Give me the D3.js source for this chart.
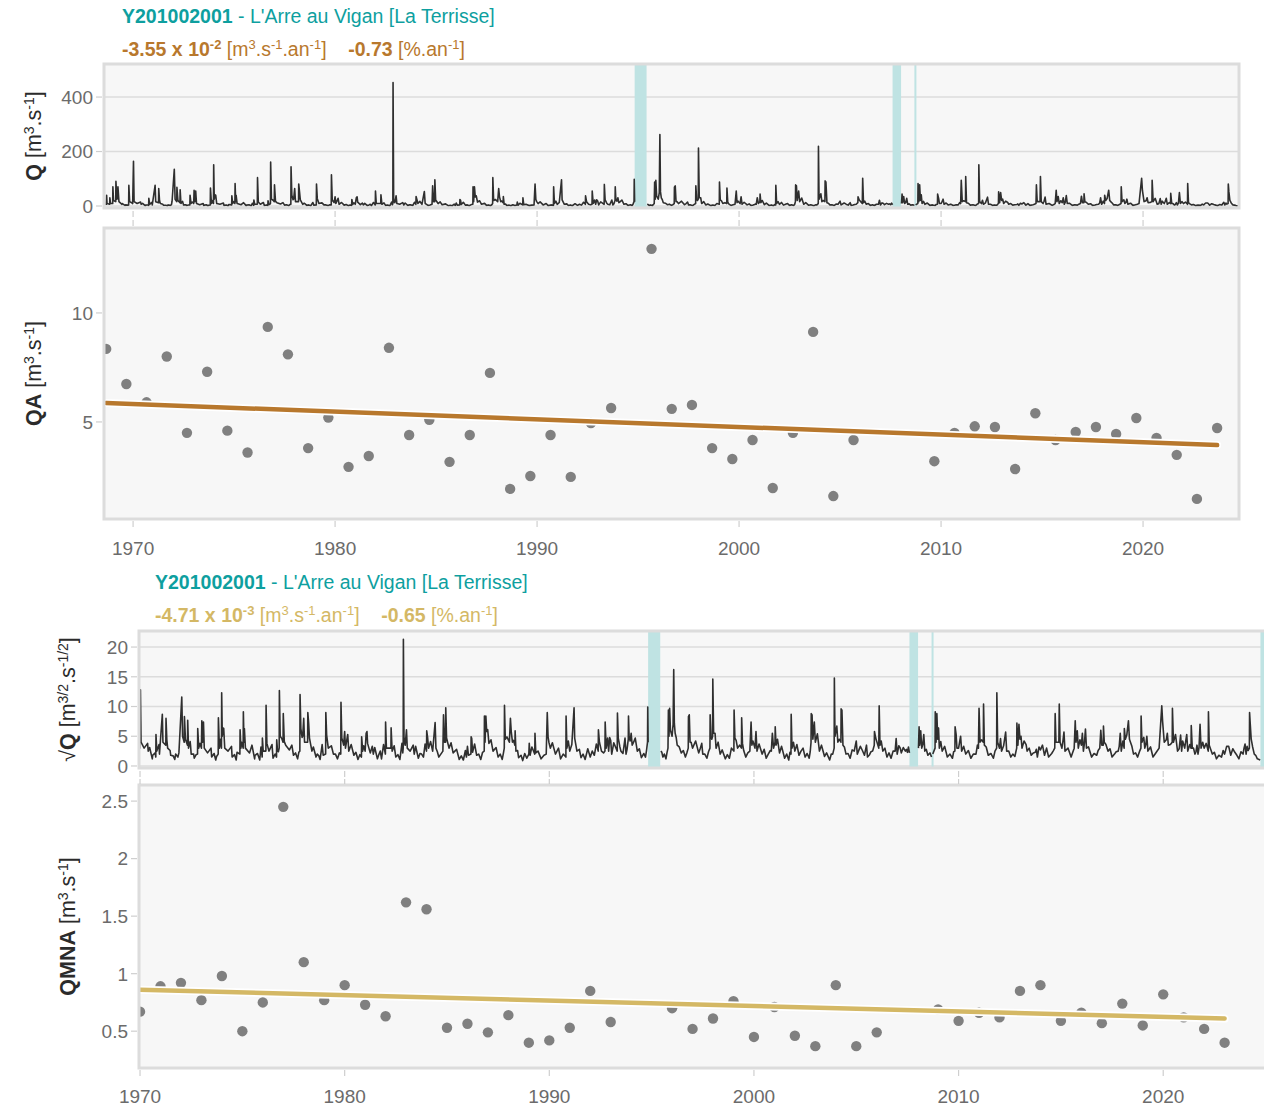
<!DOCTYPE html>
<html>
<head>
<meta charset="utf-8">
<script src="https://cdn.jsdelivr.net/npm/d3@7"></script>
<style>
  body { margin: 0; background: #fff; }
  svg { font-family: "Liberation Sans", Arial, Helvetica, sans-serif; }
</style>
</head>
<body>
<div id="chart"></div>
<script>
// station
const stationCode = "Y201002001";
const stationName = " - L'Arre au Vigan [La Terrisse]";

// daily flow as [decimal year, sqrt(Q)] (peaks and troughs), null = gap
const flowPts = [
  [1968.67,2.0],[1968.69,6.3],[1968.71,3.0],[1968.84,2.5],[1968.85,5.5],[1968.88,3.2],[1968.99,3.0],[1969.0,8.4],[1969.03,4.5],[1969.14,4],[1969.15,9.5],[1969.2,5],[1969.24,6],[1969.25,8.4],[1969.3,4],[1969.45,2.5],[1969.6,1.5],[1969.78,2],[1969.79,8.7],[1969.83,4],[1969.98,3],
  [1970.02,12.8],[1970.05,4],[1970.2,3],[1970.37,3.8],[1970.4,2.5],[1970.6,1.2],[1970.77,1.5],[1970.78,5.3],[1970.82,2.5],[1970.95,2],[1971.09,8.7],[1971.12,4],[1971.26,3.5],[1971.27,8.0],[1971.31,4.4],[1971.35,3],[1971.5,1.8],[1971.7,1.1],[1971.85,1.5],[1971.9,2.2],
  [1972.04,11.6],[1972.08,5],[1972.16,4],[1972.17,8.3],[1972.22,4.5],[1972.32,3.5],[1972.33,7.7],[1972.37,3],[1972.45,4.1],[1972.5,2],[1972.65,1.3],[1972.81,2],[1972.82,6.3],[1972.87,3],[1973.0,3],[1973.02,7.6],[1973.06,4],[1973.1,7.4],[1973.14,3],[1973.3,2.2],[1973.5,1.5],[1973.7,1.0],
  [1973.82,2],[1973.83,8.1],[1973.88,3],[1973.98,3],[1973.99,12.3],[1974.02,5],[1974.05,6.4],[1974.09,6.3],[1974.14,3],[1974.3,2.5],[1974.5,1.5],[1974.7,1.0],[1974.88,2],[1974.89,6.1],[1974.93,3],[1975.04,3],[1975.05,9.1],[1975.08,4],[1975.1,6.3],[1975.15,3],[1975.35,2.2],[1975.6,1.2],[1975.85,1],
  [1975.97,1.5],[1975.98,4.7],[1976.02,2.5],[1976.15,2.5],[1976.16,10.2],[1976.2,3.8],[1976.3,2.5],[1976.5,1.3],[1976.67,1.5],[1976.68,4.4],[1976.72,2.5],[1976.8,3],[1976.81,12.7],[1976.85,5],[1976.99,4],[1977.0,8.8],[1977.05,4.1],[1977.12,3.5],[1977.3,2.7],[1977.5,1.8],[1977.7,1.2],
  [1977.81,2.5],[1977.82,12.0],[1977.86,6.3],[1977.95,5],[1978.0,8.0],[1978.04,4],[1978.19,4],[1978.2,9.0],[1978.24,7.2],[1978.28,4.7],[1978.4,2.5],[1978.6,1.5],[1978.8,1.1],[1978.95,1.8],
  [1979.07,2],[1979.08,9.0],[1979.12,5.2],[1979.2,3],[1979.45,2],[1979.65,1.2],[1979.81,2],[1979.82,10.7],[1979.86,4.7],[1979.95,3.5],[1980.0,5.8],[1980.04,3],[1980.15,5.3],[1980.2,2.5],[1980.45,1.8],[1980.65,1.1],
  [1980.82,1.5],[1980.83,4.9],[1980.88,2.5],[1981.0,2.5],[1981.05,5.5],[1981.09,5.8],[1981.12,3.8],[1981.25,2.2],[1981.35,3.3],[1981.4,2],[1981.6,1.2],[1981.8,1.2],
  [1981.99,2],[1982.0,7.4],[1982.04,3],[1982.26,3],[1982.27,6.4],[1982.32,2.5],[1982.5,1.5],[1982.7,1.1],[1982.8,3.8],[1982.84,2.2],[1982.86,3],[1982.87,21.3],[1982.9,4.9],[1982.96,3.5],[1983.02,6.1],[1983.06,3],[1983.2,2.5],[1983.35,3.5],[1983.4,2],[1983.6,1.3],[1983.85,1.5],
  [1984.0,2.5],[1984.01,5.9],[1984.05,4.9],[1984.1,3],[1984.3,2.5],[1984.42,7.3],[1984.46,3],[1984.6,1.5],[1984.8,2.5],[1984.83,8.6],[1984.88,4],[1984.93,4],[1984.94,9.8],[1984.98,4.7],[1985.1,3],[1985.3,2.2],[1985.6,1.1],[1985.8,1.0],
  [1985.95,1.5],[1986.0,3.3],[1986.05,1.8],[1986.17,2],[1986.18,4.9],[1986.21,4.6],[1986.25,2.3],[1986.45,1.8],[1986.65,1.1],[1986.82,2.5],[1986.83,8.4],[1986.86,4],[1986.9,8.4],[1986.94,5.8],[1986.99,6.1],[1987.05,3.8],[1987.25,2.5],[1987.5,1.5],[1987.7,1.1],
  [1987.8,3],[1987.81,10.2],[1987.85,4.5],[1988.05,4],[1988.1,8.0],[1988.14,5.8],[1988.2,4],[1988.32,3.5],[1988.33,5.9],[1988.37,2.5],[1988.5,1.4],[1988.7,0.9],[1988.9,1.3],
  [1989.0,2],[1989.02,3.8],[1989.06,1.8],[1989.29,2],[1989.3,5.5],[1989.34,2.2],[1989.6,1.2],[1989.85,2],[1989.9,9.0],[1989.94,4.9],[1990.05,3],[1990.3,2],[1990.55,1.2],
  [1990.81,1.5],[1990.82,8.4],[1990.86,3],[1991.0,2.5],[1991.21,9.8],[1991.24,4.7],[1991.35,2.5],[1991.55,1.4],[1991.75,1.1],[1992.0,1.5],[1992.1,2.5],[1992.2,1.8],
  [1992.39,2.5],[1992.4,6.1],[1992.45,4],[1992.55,2.5],[1992.72,2.5],[1992.73,7.4],[1992.78,3],[1992.85,4.7],[1992.9,2.5],[1993.0,4.3],[1993.05,2],[1993.32,2.5],[1993.33,8.9],[1993.37,4.7],[1993.5,2.5],[1993.7,4.7],[1993.75,2],
  [1993.86,4.5],[1993.87,8.4],[1993.9,5],[1994.0,5.5],[1994.05,3.5],[1994.2,4.7],[1994.3,2.5],[1994.5,1.4],[1994.7,1.5],[1994.8,4],[1994.81,9.9],[1994.83,4],[1994.84,null],
  [1995.45,2.5],[1995.55,1.5],[1995.7,1.2],[1995.8,3],[1995.82,9.4],[1995.85,5],[1995.88,9.7],[1995.92,6],[1996.0,5],[1996.05,7],[1996.08,16.2],[1996.11,7.2],[1996.15,5.5],[1996.25,3.5],[1996.45,2.2],[1996.65,1.5],
  [1996.79,3],[1996.8,8.3],[1996.84,8.6],[1996.88,4],[1997.0,3],[1997.3,2.2],[1997.45,3.8],[1997.5,2],[1997.7,1.3],[1997.85,3],[1997.86,8.6],[1997.9,5],[1997.98,5],[1997.99,14.6],[1998.03,5.5],[1998.1,5.5],[1998.15,3],[1998.35,2],[1998.6,1.2],[1998.8,1.3],
  [1999.02,2.5],[1999.03,9.4],[1999.07,4.7],[1999.2,3],[1999.39,3],[1999.4,8.1],[1999.44,3.8],[1999.6,1.5],[1999.8,2.5],[1999.86,7.4],[1999.9,3.5],[2000.05,3],[2000.1,5.8],[2000.15,2.5],[2000.4,2],[2000.6,1.3],[2000.85,2.5],[2000.9,5.5],[2000.96,3],
  [2001.03,4],[2001.04,6.6],[2001.08,3.5],[2001.15,4.5],[2001.25,2.2],[2001.5,1.3],[2001.7,1.0],[2001.81,2],[2001.82,8.7],[2001.86,3],[2002.0,2.5],[2002.2,1.8],[2002.4,3],[2002.5,1.5],[2002.7,1.3],
  [2002.79,4],[2002.8,8.8],[2002.84,8.6],[2002.88,4.5],[2002.95,7.4],[2003.0,4],[2003.1,5.4],[2003.2,2.5],[2003.45,1.6],[2003.7,1.0],[2003.85,2],[2003.92,3],[2003.93,14.8],[2003.96,5],[2004.05,6.7],[2004.1,4],[2004.25,4],[2004.26,9.6],[2004.3,9.4],[2004.35,3.5],[2004.5,2],[2004.7,1.3],
  [2004.9,2.5],[2005.0,4.2],[2005.05,2],[2005.4,1.8],[2005.5,3.5],[2005.55,1.5],[2005.8,2.5],[2005.88,3.5],[2005.89,5.8],[2005.95,4.7],[2006.1,3],[2006.12,10.1],[2006.16,3.5],[2006.3,2.5],[2006.5,1.5],[2006.7,1.3],[2006.9,2.5],[2006.95,4.6],[2007.0,2],[2007.15,3],[2007.2,2.2],[2007.4,2.5],[2007.5,2.3],[2007.6,2.2],[2007.62,null],
  [2008.04,3],[2008.07,6.6],[2008.1,3.5],[2008.15,5.9],[2008.2,3],[2008.3,5.3],[2008.35,2.5],[2008.5,1.8],[2008.68,1.5],[2008.7,null],
  [2008.74,2],[2008.85,3],[2008.86,9.1],[2008.9,4],[2008.94,8.8],[2008.98,4.5],[2009.02,6.4],[2009.06,3],[2009.2,2.5],[2009.45,1.5],[2009.7,1.3],
  [2009.82,2.5],[2009.83,6.6],[2009.88,5.3],[2009.92,3],[2010.0,3],[2010.1,5.0],[2010.15,2.5],[2010.35,2],[2010.6,1.3],[2010.85,2],[2010.97,3],[2011.0,9.7],[2011.05,4],[2011.21,4],[2011.22,10.4],[2011.26,3.5],[2011.45,1.8],[2011.7,1.3],
  [2011.86,3],[2011.87,12.3],[2011.91,4],[2012.0,3],[2012.1,2.5],[2012.3,5.7],[2012.35,2.5],[2012.55,1.5],[2012.75,1.6],[2012.84,3],[2012.85,7.2],[2012.9,3.5],[2012.95,7.0],[2013.0,4.5],[2013.05,5.0],[2013.1,3],[2013.3,3.6],[2013.35,2.5],[2013.55,1.8],[2013.75,2.3],[2013.85,1.5],[2014.0,2.7],[2014.2,1.8],[2014.4,1.5],
  [2014.7,3],[2014.72,8.8],[2014.76,4],[2014.9,4],[2014.92,10.4],[2014.96,4],[2015.05,3],[2015.15,5.7],[2015.2,2.5],[2015.5,1.5],[2015.65,3],[2015.7,7.6],[2015.74,4],[2015.8,5.9],[2015.85,3],[2016.0,3.5],[2016.05,5.5],[2016.1,2.5],[2016.2,6.2],[2016.25,3],[2016.5,1.5],[2016.75,1.8],
  [2016.9,3],[2016.95,6.0],[2017.0,3.5],[2017.07,3.5],[2017.08,6.7],[2017.12,4],[2017.3,2.5],[2017.5,1.5],[2017.8,2.5],[2017.9,5.5],[2017.95,2.5],[2018.09,3],[2018.1,6.3],[2018.15,4.5],[2018.3,7.6],[2018.35,4.5],[2018.4,4],[2018.55,2],[2018.75,1.5],
  [2018.91,3],[2018.92,8.4],[2018.96,4],[2019.1,3],[2019.2,5.0],[2019.25,2.5],[2019.5,1.5],[2019.8,3],[2019.93,10.1],[2019.97,7.5],[2020.05,4],[2020.2,5.5],[2020.25,3.5],[2020.44,4],[2020.45,9.7],[2020.5,4],[2020.6,5.3],[2020.7,2.5],[2020.85,5.2],[2020.9,2.5],
  [2021.05,3],[2021.15,5.3],[2021.2,2.5],[2021.36,3],[2021.37,6.8],[2021.42,3],[2021.55,2],[2021.65,3.5],[2021.7,2],[2021.8,7.0],[2021.85,3],[2022.0,3],[2022.2,2.5],[2022.21,9.1],[2022.25,3.5],[2022.4,2],[2022.6,1.2],[2022.85,1.5],
  [2023.0,2],[2023.2,3.3],[2023.3,1.8],[2023.5,2.3],[2023.7,1.2],[2023.9,2],[2024.0,3.7],[2024.05,2],[2024.21,3],[2024.22,9.0],[2024.25,7.2],[2024.3,4.5],[2024.45,2],[2024.6,1.2],[2024.74,1.0]
];

// smaller freshets and low-flow wiggles between the main peaks, [decimal year, sqrt(Q)]
const minorPts = [
  [1969.47,3.0],[1969.62,2.0],[1969.74,1.8],[1969.93,3.5],
  [1970.47,3.1],[1970.62,1.8],[1970.74,2.2],[1970.93,3.6],
  [1971.47,2.6],[1971.62,1.7],[1971.74,2.0],[1971.93,4.2],
  [1972.47,3.4],[1972.62,2.0],[1972.74,1.9],[1972.93,3.8],
  [1973.47,3.0],[1973.62,2.1],[1973.74,1.6],[1973.93,4.5],
  [1974.47,3.3],[1974.62,1.9],[1974.74,2.3],[1974.97,4.0],
  [1975.47,3.5],[1975.62,1.8],[1975.74,2.1],[1975.91,3.2],
  [1976.45,3.6],[1976.6,2.0],[1976.76,2.4],[1976.93,4.6],
  [1977.42,3.5],[1977.6,2.2],[1977.76,2.3],[1977.92,4.8],
  [1978.47,3.2],[1978.66,2.0],[1978.74,1.7],[1978.9,3.6],
  [1979.35,3.4],[1979.55,2.0],[1979.74,2.2],[1979.91,4.1],
  [1980.32,3.6],[1980.55,2.3],[1980.74,1.9],[1980.93,3.4],
  [1981.47,3.1],[1981.68,2.0],[1981.74,2.5],[1981.9,3.6],
  [1982.42,3.4],[1982.6,1.9],[1982.74,2.2],[1982.93,3.8],
  [1983.47,3.3],[1983.68,2.1],[1983.76,2.0],[1983.93,3.7],
  [1984.2,4.1],[1984.53,2.4],[1984.7,2.0],
  [1985.2,3.9],[1985.47,2.8],[1985.7,1.7],[1985.9,2.6],
  [1986.35,3.7],[1986.55,2.0],[1986.74,2.3],
  [1987.15,4.4],[1987.4,3.1],[1987.6,2.0],[1987.76,2.2],[1987.93,4.9],
  [1988.25,4.3],[1988.45,2.6],[1988.62,1.8],[1988.8,2.1],
  [1989.15,3.2],[1989.45,2.5],[1989.74,1.8],[1989.98,4.0],
  [1990.15,3.9],[1990.45,3.0],[1990.68,2.0],[1990.93,4.2],
  [1991.1,3.6],[1991.47,2.8],[1991.65,2.0],[1991.88,2.9],
  [1992.3,3.7],[1992.65,2.2],[1992.95,4.8],
  [1993.15,3.9],[1993.45,3.2],[1993.6,2.1],[1993.8,2.8],[1993.95,4.2],
  [1994.12,4.0],[1994.4,2.9],[1994.62,2.1],[1994.75,2.6],
  [1995.5,2.3],[1995.62,2.0],[1995.75,2.2],
  [1996.2,4.8],[1996.35,3.2],[1996.55,2.6],[1996.72,2.2],[1996.93,4.0],
  [1997.15,4.2],[1997.38,3.0],[1997.6,2.0],[1997.78,2.4],[1997.94,4.5],
  [1998.25,4.0],[1998.45,2.7],[1998.7,1.9],[1998.9,3.0],
  [1999.13,4.3],[1999.3,3.5],[1999.5,2.6],[1999.7,2.2],[1999.95,4.2],
  [2000.25,3.7],[2000.5,2.8],[2000.7,2.0],[2000.8,2.6],
  [2001.35,3.3],[2001.6,2.0],[2001.76,2.3],[2001.93,4.0],
  [2002.1,3.6],[2002.3,2.5],[2002.6,2.1],[2002.75,2.4],
  [2003.3,3.5],[2003.55,2.2],[2003.78,2.0],
  [2004.17,4.5],[2004.42,3.2],[2004.6,2.1],[2004.8,2.7],
  [2005.2,3.3],[2005.3,2.6],[2005.65,1.9],[2005.72,2.4],
  [2006.22,4.2],[2006.4,3.0],[2006.6,2.2],[2006.8,2.5],
  [2007.08,3.4],[2007.3,3.1],[2007.45,2.8],[2007.55,3.2],
  [2008.25,3.6],[2008.42,2.8],[2008.6,2.2],
  [2009.13,4.1],[2009.32,3.3],[2009.58,2.0],[2009.76,2.4],
  [2010.05,4.0],[2010.25,3.3],[2010.48,2.6],[2010.72,2.0],[2010.92,3.5],
  [2011.12,4.4],[2011.35,3.2],[2011.58,2.1],[2011.78,2.5],
  [2012.05,4.6],[2012.2,3.4],[2012.45,2.5],[2012.65,2.0],
  [2013.2,4.2],[2013.45,3.0],[2013.65,2.2],[2013.8,2.8],[2013.93,3.2],
  [2014.1,3.5],[2014.3,3.0],[2014.55,2.1],[2014.62,2.5],
  [2015.1,4.2],[2015.35,3.0],[2015.58,2.3],[2015.93,4.4],
  [2016.15,3.8],[2016.35,3.2],[2016.62,2.1],[2016.82,2.6],
  [2017.2,3.6],[2017.4,2.9],[2017.62,2.0],[2017.7,2.4],[2017.85,3.3],
  [2018.03,4.2],[2018.22,5.2],[2018.47,3.3],[2018.65,2.2],[2018.85,2.5],
  [2019.05,4.8],[2019.15,3.6],[2019.38,3.2],[2019.62,2.1],[2019.72,2.6],
  [2020.15,4.4],[2020.35,3.6],[2020.78,2.9],[2020.95,4.2],
  [2021.1,4.2],[2021.3,3.6],[2021.48,3.0],[2021.6,2.4],[2021.75,3.1],[2021.93,4.0],
  [2022.1,3.8],[2022.3,3.0],[2022.5,2.3],[2022.72,1.8],[2022.93,2.6],
  [2023.1,3.3],[2023.4,2.9],[2023.6,1.8],[2023.8,2.4],[2023.95,3.0],
  [2024.1,3.3],[2024.15,2.6],[2024.37,3.2],[2024.52,1.8]
];

// missing-data periods [start, end] in decimal years
const gaps = [[1994.83, 1995.42], [2007.6, 2008.02], [2008.68, 2008.74], [2024.75, 2026.5]];

// QA : mean annual flow, hydrological year starting 1 September
const qaYears = [1968,1969,1970,1971,1972,1973,1974,1975,1976,1977,1978,1979,1980,1981,1982,1983,1984,1985,1986,1987,1988,1989,1990,1991,1992,1993,
  1995,1996,1997,1998,1999,2000,2001,2002,2003,2004,2005,2009,2010,2011,2012,2013,2014,2015,2016,2017,2018,2019,2020,2021,2022,2023];
const qaValues = [8.35,6.74,5.9,8.0,4.5,7.3,4.6,3.6,9.36,8.1,3.8,5.2,2.94,3.44,8.4,4.4,5.1,3.17,4.4,7.25,1.93,2.52,4.4,2.48,4.95,5.64,
  12.94,5.6,5.78,3.8,3.3,4.17,1.97,4.5,9.13,1.6,4.17,3.2,4.5,4.8,4.77,2.84,5.4,4.17,4.54,4.77,4.45,5.18,4.27,3.49,1.47,4.72];
const qaTrendEnds = [5.87, 3.94];

// QMNA : minimum monthly flow, calendar year
const qmnaYears = [1970,1971,1972,1973,1974,1975,1976,1977,1978,1979,1980,1981,1982,1983,1984,1985,1986,1987,1988,1989,1990,1991,1992,1993,
  1996,1997,1998,1999,2000,2001,2002,2003,2004,2005,2006,2009,2010,2011,2012,2013,2014,2015,2016,2017,2018,2019,2020,2021,2022,2023];
const qmnaValues = [0.67,0.89,0.92,0.77,0.98,0.50,0.75,2.45,1.10,0.77,0.90,0.73,0.63,1.62,1.56,0.53,0.565,0.49,0.64,0.40,0.42,0.53,0.85,0.58,
  0.70,0.52,0.61,0.76,0.45,0.71,0.46,0.37,0.90,0.37,0.49,0.69,0.59,0.66,0.62,0.85,0.90,0.59,0.66,0.57,0.74,0.55,0.82,0.62,0.52,0.40];
const qmnaTrendEnds = [0.86, 0.61];

const qTicks = [0, 200, 400];
const qaTicks = [5, 10];
const sqTicks = [0, 5, 10, 15, 20];
const qmnaTicks = [0.5, 1, 1.5, 2, 2.5];
const yearTicks = [1970, 1980, 1990, 2000, 2010, 2020];

const teal = "#0e9f9f";
const brown = "#b8782d";
const gold = "#d4b865";
const bandColor = "#bfe3e3";
const hydroStart = 8 / 12;

const flowSeries = flowPts.concat(minorPts).sort((a, b) => a[0] - b[0]);

const svg = d3.select("#chart").append("svg").attr("width", 1264).attr("height", 1106)
  .attr("font-family", "'Liberation Sans', Arial, Helvetica, sans-serif");

// text with bold parts and superscripts
function rich(sel, parts, supSize) {
  let shift = 0;
  parts.forEach(p => {
    const s = sel.append("tspan").text(p.t);
    const want = p.sup ? -7 : 0;
    if (want !== shift) { s.attr("dy", want - shift); shift = want; }
    if (p.b) s.attr("font-weight", "bold");
    if (p.sup) s.style("font-size", (supSize || 13) + "px");
  });
  return sel;
}

const unitQ = [{t: " [m"}, {t: "3", sup: 1}, {t: ".s"}, {t: "-1", sup: 1}, {t: "]"}];

function header(x, y, slope, pct, color) {
  svg.append("text").attr("x", x).attr("y", y).attr("fill", teal).style("font-size", "19.5px")
    .call(rich, [{t: stationCode, b: 1}, {t: stationName}]);
  svg.append("text").attr("x", x).attr("y", y + 33).attr("fill", color).style("font-size", "19.5px")
    .call(rich, [{t: slope[0] + " x 10", b: 1}, {t: slope[1], b: 1, sup: 1}, {t: " [m"}, {t: "3", sup: 1}, {t: ".s"}, {t: "-1", sup: 1},
      {t: ".an"}, {t: "-1", sup: 1}, {t: "]\u00a0\u00a0\u00a0\u00a0"}, {t: pct, b: 1}, {t: " [%.an"}, {t: "-1", sup: 1}, {t: "]"}]);
}

let clipId = 0;
function panel(y0, y1, xs, ys, ticks, grid, titleParts, titleX) {
  const g = svg.append("g");
  const [l, r] = xs.range();
  g.append("rect").attr("x", l).attr("y", y0).attr("width", r - l).attr("height", y1 - y0).attr("fill", "#f7f7f7");
  if (grid) {
    g.selectAll(".grid").data(ticks).join("line")
      .attr("x1", l).attr("x2", r).attr("y1", d => ys(d)).attr("y2", d => ys(d))
      .attr("stroke", "#dcdcdc").attr("stroke-width", 1.6);
  }
  // y ticks
  g.selectAll(".yt").data(ticks).join("line")
    .attr("x1", l - 8).attr("x2", l - 2).attr("y1", d => ys(d)).attr("y2", d => ys(d))
    .attr("stroke", "#cfcfcf").attr("stroke-width", 1.2);
  g.selectAll(".yl").data(ticks).join("text")
    .attr("x", l - 11).attr("y", d => ys(d)).attr("dy", "0.36em").attr("text-anchor", "end")
    .attr("fill", "#6b6b6b").style("font-size", "19px").text(d => d);
  // axis title
  const cy = (y0 + y1) / 2;
  g.append("text").attr("transform", `translate(${titleX},${cy}) rotate(-90)`).attr("text-anchor", "middle")
    .attr("fill", "#2b2b2b").style("font-size", "21.5px").call(rich, titleParts, 14);
  const id = "clip" + (clipId++);
  svg.append("clipPath").attr("id", id).append("rect").attr("x", l).attr("y", y0).attr("width", r - l).attr("height", y1 - y0);
  const inner = svg.append("g").attr("clip-path", `url(#${id})`);
  const frame = () => svg.append("rect").attr("x", l).attr("y", y0).attr("width", r - l).attr("height", y1 - y0)
    .attr("fill", "none").attr("stroke", "#dcdcdc").attr("stroke-width", 3);
  return {inner, frame};
}

function xTicks(xs, y, len) {
  svg.append("g").selectAll("line").data(yearTicks).join("line")
    .attr("x1", d => xs(d)).attr("x2", d => xs(d)).attr("y1", y).attr("y2", y + len)
    .attr("stroke", "#cfcfcf").attr("stroke-width", 1.2);
}
function xLabels(xs, y) {
  svg.append("g").selectAll("text").data(yearTicks).join("text")
    .attr("x", d => xs(d)).attr("y", y).attr("dy", "0.36em").attr("text-anchor", "middle")
    .attr("fill", "#6b6b6b").style("font-size", "19px").text(d => d);
}

function hydro(p, xs, ys, tf, y0, y1) {
  p.inner.selectAll(".band").data(gaps).join("rect")
    .attr("x", d => xs(d[0])).attr("width", d => Math.max(2, xs(d[1]) - xs(d[0])))
    .attr("y", y0).attr("height", y1 - y0).attr("fill", bandColor);
  const line = d3.line().defined(d => d[1] !== null).x(d => xs(d[0])).y(d => ys(tf(d[1])));
  p.inner.append("path").datum(flowSeries).attr("d", line)
    .attr("fill", "none").attr("stroke", "#2f2f2f").attr("stroke-width", 1.6).attr("stroke-linejoin", "round");
  p.frame();
}

function scatter(p, xs, ys, xsData, vals, trendX, trendEnds, color) {
  p.inner.selectAll("circle").data(vals).join("circle")
    .attr("cx", (d, i) => xs(xsData[i])).attr("cy", d => ys(d)).attr("r", 5.2).attr("fill", "#808080");
  const tl = d3.line().x((d, i) => xs(trendX[i])).y(d => ys(d));
  p.inner.append("path").datum(trendEnds).attr("d", tl).attr("stroke", "#fff").attr("stroke-width", 8).attr("stroke-linecap", "round");
  p.inner.append("path").datum(trendEnds).attr("d", tl).attr("stroke", color).attr("stroke-width", 4.5).attr("stroke-linecap", "round");
  p.frame();
}

// ---------- top figure (QA) ----------
header(122, 23, ["-3.55", "-2"], "-0.73", brown);
const xTop = d3.scaleLinear().domain([1968.56, 2024.75]).range([104, 1239]);
const yQ = d3.scaleLinear().domain([0, 514]).range([206, 66]);
const pQ = panel(64, 208, xTop, yQ, qTicks, true, [{t: "Q", b: 1}, ...unitQ], 41);
hydro(pQ, xTop, yQ, v => v * v, 64, 208);
xTicks(xTop, 211, 6);

const yQA = d3.scaleLinear().domain([0.64, 13.85]).range([517, 229]);
const pQA = panel(228, 519, xTop, yQA, qaTicks, false, [{t: "QA", b: 1}, ...unitQ], 41);
const qaX = qaYears.map(y => y + hydroStart);
scatter(pQA, xTop, yQA, qaX, qaValues, [qaX[0], qaX[qaX.length - 1]], qaTrendEnds, brown);
xTicks(xTop, 220, 6);
xTicks(xTop, 521, 6);
xLabels(xTop, 548);

// ---------- bottom figure (QMNA) ----------
header(155, 589, ["-4.71", "-3"], "-0.65", gold);
const xBot = d3.scaleLinear().domain([1969.95, 2026]).range([139, 1286]);
const ySq = d3.scaleLinear().domain([-0.34, 22.7]).range([768, 631]);
const pSq = panel(631, 768, xBot, ySq, sqTicks, true,
  [{t: "\u221a"}, {t: "Q", b: 1}, {t: " [m"}, {t: "3/2", sup: 1}, {t: ".s"}, {t: "-1/2", sup: 1}, {t: "]"}], 75);
hydro(pSq, xBot, ySq, v => v, 631, 768);
xTicks(xBot, 771, 6);

const yQm = d3.scaleLinear().domain([0.18, 2.64]).range([1068, 785]);
const pQm = panel(785, 1068, xBot, yQm, qmnaTicks, false, [{t: "QMNA", b: 1}, ...unitQ], 75);
scatter(pQm, xBot, yQm, qmnaYears, qmnaValues, [qmnaYears[0], qmnaYears[qmnaYears.length - 1]], qmnaTrendEnds, gold);
xTicks(xBot, 779, 5);
xTicks(xBot, 1070, 6);
xLabels(xBot, 1096);
</script>
</body>
</html>
